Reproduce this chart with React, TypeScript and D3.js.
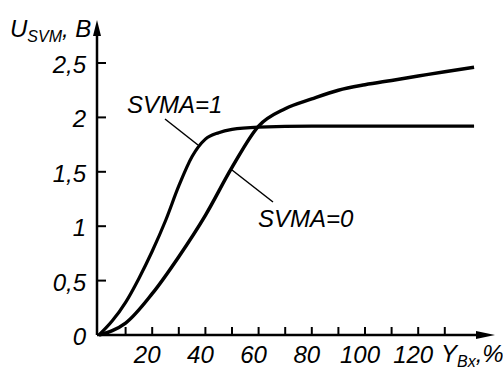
import * as d3 from 'd3';

// curve SVMA=0
const x0 = [0, 5, 10, 20, 30, 40, 50, 60, 70, 80, 90, 100, 110, 120, 130, 141];
const y0 = [0, 0.04, 0.11, 0.38, 0.72, 1.1, 1.54, 1.92, 2.08, 2.17, 2.25, 2.3, 2.34, 2.38, 2.42, 2.46];

// curve SVMA=1
const x1 = [0, 5, 10, 15, 20, 25, 30, 35, 40, 45, 50, 60, 80, 100, 120, 141];
const y1 = [0, 0.13, 0.3, 0.52, 0.77, 1.05, 1.37, 1.64, 1.8, 1.86, 1.89, 1.91, 1.92, 1.92, 1.92, 1.92];

const yTicks = [0, 0.5, 1, 1.5, 2, 2.5];
const yTickLabels = ['0', '0,5', '1', '1,5', '2', '2,5'];
const xTicks = [10, 20, 30, 40, 50, 60, 70, 80, 90, 100, 110, 120, 130];
const xTickLabels = ['20', '40', '60', '80', '100', '120'];
const xLabelValues = [20, 40, 60, 80, 100, 120];

export default function App() {
  const width = 503;
  const height = 372;
  const font = '"Liberation Sans", Arial, sans-serif';
  const fs = 24;

  const x = d3.scaleLinear().domain([0, 100]).range([99, 365]);
  const y = d3.scaleLinear().domain([0, 2.5]).range([335, 63]);

  const line = d3.line<[number, number]>()
    .x(d => x(d[0]))
    .y(d => y(d[1]))
    .curve(d3.curveMonotoneX);

  const pts0 = x0.map((v, i) => [v, y0[i]] as [number, number]);
  const pts1 = x1.map((v, i) => [v, y1[i]] as [number, number]);

  const ax = 97; // y axis line
  const ay = 335; // x axis line

  return (
    <svg width={width} height={height} style={{ position: 'absolute', left: 0, top: 0, background: '#fff' }}>
      {/* axes */}
      <line x1={ax} y1={ay} x2={ax} y2={30} stroke="#000" strokeWidth={2.5} />
      <path d={`M${ax},20 L${ax - 4},36 L${ax + 4},36 Z`} fill="#000" />
      <line x1={ax} y1={ay} x2={485} y2={ay} stroke="#000" strokeWidth={2.5} />
      <path d={`M495,${ay} L476,${ay - 4} L476,${ay + 4} Z`} fill="#000" />

      {/* y ticks */}
      {yTicks.slice(1).map(t => (
        <line key={t} x1={ax} x2={ax + 9} y1={y(t)} y2={y(t)} stroke="#000" strokeWidth={2} />
      ))}
      {yTicks.map((t, i) => (
        <text key={'yl' + t} x={86} y={y(t) + 10} textAnchor="end" fontFamily={font}
          fontStyle="italic" fontSize={fs}>{yTickLabels[i]}</text>
      ))}

      {/* x ticks */}
      {xTicks.map(t => (
        <line key={t} x1={x(t)} x2={x(t)} y1={ay} y2={ay - 8} stroke="#000" strokeWidth={2} />
      ))}
      {xLabelValues.map((t, i) => (
        <text key={'xl' + t} x={x(t) - 5} y={363} textAnchor="middle" fontFamily={font}
          fontStyle="italic" fontSize={fs}>{xTickLabels[i]}</text>
      ))}

      {/* axis titles */}
      <text x={441} y={362} fontFamily={font} fontStyle="italic" fontSize={fs}>
        Y<tspan fontSize={16} dy={5}>Bx</tspan><tspan dy={-5}>,%</tspan>
      </text>
      <text x={10} y={37} fontFamily={font} fontStyle="italic" fontSize={fs}>
        U<tspan fontSize={16} dy={5}>SVM</tspan><tspan dy={-5}>, B</tspan>
      </text>

      {/* curves */}
      <path d={line(pts1) ?? ''} fill="none" stroke="#000" strokeWidth={3.2} strokeLinejoin="round" />
      <path d={line(pts0) ?? ''} fill="none" stroke="#000" strokeWidth={3.5} strokeLinejoin="round" />

      {/* labels with leaders */}
      <line x1={165} y1={119} x2={198} y2={145} stroke="#000" strokeWidth={1.5} />
      <text x={127} y={113} fontFamily={font} fontStyle="italic" fontSize={fs}>SVMA=1</text>
      <line x1={232} y1={170} x2={273} y2={202} stroke="#000" strokeWidth={1.5} />
      <text x={258} y={227} fontFamily={font} fontStyle="italic" fontSize={fs}>SVMA=0</text>
    </svg>
  );
}
